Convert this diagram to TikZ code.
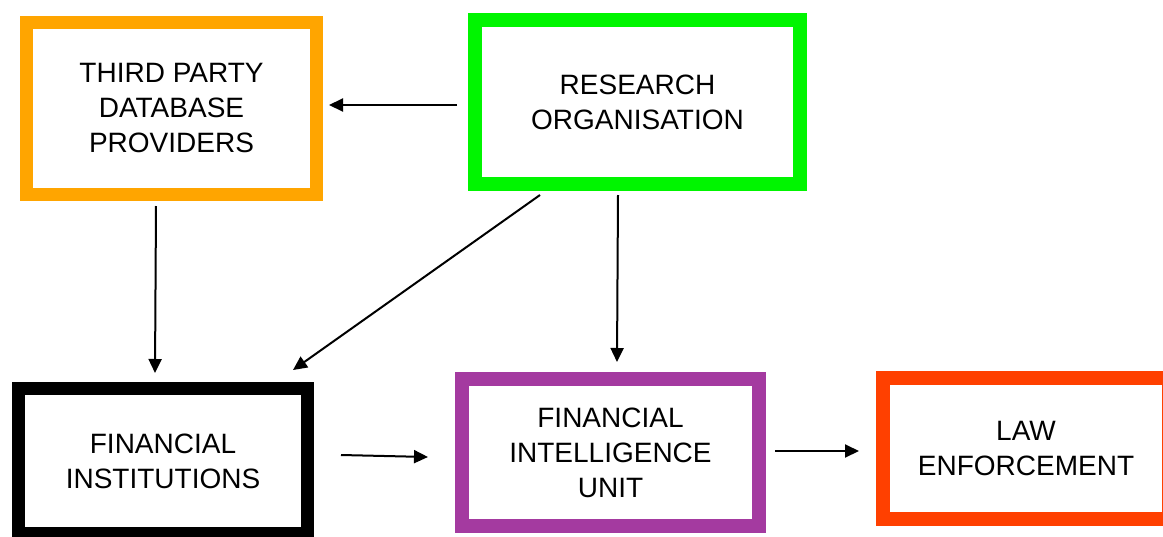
\documentclass[tikz,border=0pt]{standalone}
\usepackage{fontspec}
\setmainfont{Liberation Sans}
\usetikzlibrary{arrows.meta,calc}
\definecolor{cOrange}{RGB}{255,165,0}
\definecolor{cGreen}{RGB}{0,245,0}
\definecolor{cPurple}{RGB}{164,58,160}
\definecolor{cRed}{RGB}{255,64,0}
\tikzset{
  box/.style={draw, rectangle, inner sep=0pt, outer sep=0pt, align=center,
    font=\fontsize{28}{35}\selectfont, text=black},
  arr/.style={draw=black, line width=2pt, -{Triangle[length=14pt,width=13pt]}}
}
\begin{document}
\begin{tikzpicture}[x=1pt,y=-1pt]
\useasboundingbox (0,0) rectangle (1163,536);
\clip (0,0) rectangle (1163,536);
\fill[white] (0,0) rectangle (1163,536);
\node[box, draw=cOrange, line width=13pt, minimum width=290pt, minimum height=172pt] (tp) at (171.5,108.5) {THIRD PARTY\\DATABASE\\PROVIDERS};
\node[box, draw=cGreen, line width=14pt, minimum width=325pt, minimum height=164pt] (ro) at (637.5,102) {RESEARCH\\ORGANISATION};
\node[box, draw=black, line width=13pt, minimum width=289pt, minimum height=145pt] (fi) at (163,461) {FINANCIAL\\INSTITUTIONS};
\node[box, draw=cPurple, line width=14pt, minimum width=297pt, minimum height=147pt] (fiu) at (610.5,452.5) {FINANCIAL\\INTELLIGENCE\\UNIT};
\node[box, draw=cRed, line width=14pt, minimum width=286pt, minimum height=141pt] (le) at (1026,448.5) {LAW\\ENFORCEMENT};
\draw[arr] ($(ro.west)+(-18,3)$) -- ($(tp.east)+(12.5,-3.5)$);
\draw[arr] ($(tp.south)+(-15.5,11.5)$) -- ($(fi.north)+(-8,-15.5)$);
\draw[arr] ($(ro.south)+(-97.5,11)$) -- ($(fi.north)+(130,-18.5)$);
\draw[arr] ($(ro.south)+(-19.5,11)$) -- ($(fiu.north)+(6.5,-17)$);
\draw[arr] ($(fi.east)+(33.5,-6)$) -- ($(fiu.west)+(-34,4.5)$);
\draw[arr] ($(fiu.east)+(16,-1.5)$) -- ($(le.west)+(-24,2.5)$);
\end{tikzpicture}
\end{document}
